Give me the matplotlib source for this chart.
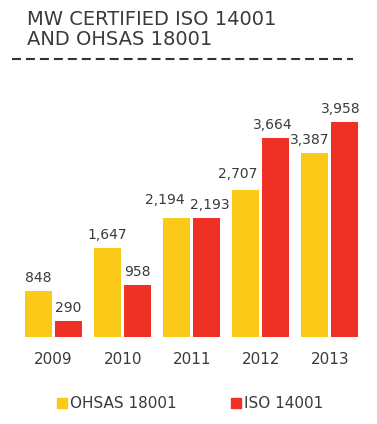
import matplotlib
matplotlib.use("Agg")
import matplotlib.pyplot as plt
from matplotlib.patches import Patch
from matplotlib.lines import Line2D
import numpy as np

years = ["2009", "2010", "2011", "2012", "2013"]
ohsas = [848, 1647, 2194, 2707, 3387]
iso = [290, 958, 2193, 3664, 3958]

# small nudges (pixels) for value labels that would otherwise collide
ohsas_nudge = [(0, 0), (0, 0), (-12, 5), (-8, 3), (-5, 0)]
iso_nudge = [(0, 0), (0, 0), (3, 0), (-3, 0), (-4, 0)]

YELLOW = "#FBC918"
RED = "#EE3124"
TEXT = "#3a3a3a"

W, H = 377, 424
fig = plt.figure(figsize=(W / 100, H / 100), dpi=100)
fig.patch.set_facecolor("white")

ax = fig.add_axes([19 / W, 87 / H, 345.5 / W, 217 / H])
x = np.arange(len(years))
bw = 0.39
off = 0.217
b1 = ax.bar(x - off, ohsas, bw, color=YELLOW)
b2 = ax.bar(x + off, iso, bw, color=RED)

for bars, vals, nudges in [(b1, ohsas, ohsas_nudge), (b2, iso, iso_nudge)]:
    for r, v, (dx, dy) in zip(bars, vals, nudges):
        ax.annotate(f"{v:,}", (r.get_x() + r.get_width() / 2, v),
                    xytext=(dx, 9 + dy), textcoords="offset pixels",
                    ha="center", va="baseline", fontsize=10, color=TEXT,
                    annotation_clip=False)

ax.set_xlim(-0.5, 4.5)
ax.set_ylim(0, 4000)
ax.set_xticks(x)
ax.set_xticklabels(years, fontsize=11, color=TEXT)
ax.tick_params(axis="x", length=0, pad=11)
ax.set_yticks([])
for s in ax.spines.values():
    s.set_visible(False)

fig.text(27 / W, 1 - 10 / H, "MW CERTIFIED ISO 14001\nAND OHSAS 18001",
         ha="left", va="top", fontsize=14, color=TEXT, linespacing=1.05)
fig.add_artist(Line2D([12 / W, 353 / W], [1 - 58.5 / H, 1 - 58.5 / H],
                      color="#333333", lw=1.5, dashes=(4.3, 2.4)))

handles = [Patch(color=YELLOW, label="OHSAS 18001"),
           Patch(color=RED, label="ISO 14001")]
fig.legend(handles=handles, loc="center", bbox_to_anchor=(0.504, 20 / H),
           ncol=2, frameon=False, fontsize=11, handlelength=0.65,
           handleheight=0.65, handletextpad=0.2, columnspacing=3.6,
           labelcolor=TEXT)

fig.savefig("out.png", dpi=100)
